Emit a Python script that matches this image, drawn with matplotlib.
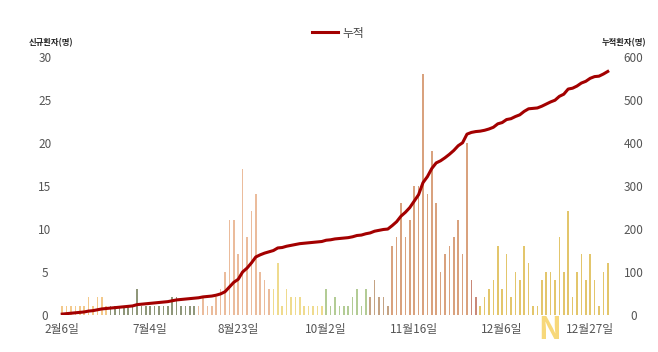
import matplotlib
matplotlib.use("Agg")
import matplotlib.pyplot as plt
import numpy as np

plt.rcParams['font.family'] = ['Noto Sans CJK KR', 'DejaVu Sans']

# 일별 신규환자 (명)
new_cases = [1, 1, 1, 1, 1, 1, 2, 1, 2, 2, 1,
             1, 1, 1, 1, 1, 1, 3, 1, 1, 1, 1, 1, 1, 1, 2, 2, 1, 1, 1, 1,
             1, 2, 1, 1, 2, 3, 5, 11, 11, 7, 17, 9, 12, 14,
             5, 4, 3, 3, 6, 1, 3, 2, 2, 2, 1, 1, 1, 1, 1,
             3, 1, 2, 1, 1, 1, 2, 3, 1, 3, 2, 4, 2, 2,
             1, 8, 9, 13, 9, 11, 15, 15, 28, 14, 19, 13, 5, 7, 8, 9, 11, 7, 20,
             4, 2, 1, 2, 3, 4, 8, 3, 7, 2, 5, 4, 8, 6, 1, 1, 4, 5, 5, 4, 9, 5,
             12, 2, 5, 7, 4, 7, 4, 1, 5, 6]
cumulative = np.cumsum(new_cases)

tick_pos = [0, 20, 40, 60, 80, 100, 120]
tick_labels = ['2월6일', '7월4일', '8월23일', '10월2일', '11월16일', '12월6일', '12월27일']

# 구간별 막대 색
segments = [(11, '#f3c98b'), (20, '#8f977a'), (17, '#ebbc9c'), (12, '#efdb8e'),
            (10, '#b3cc95'), (5, '#c4a384'), (18, '#d9a27e'), (2, '#c98878'),
            (30, '#e3c66c')]
colors = []
for cnt, c in segments:
    colors += [c] * cnt
colors = colors[:len(new_cases)]

x = np.arange(len(new_cases))

fig = plt.figure(figsize=(6.58, 3.52), dpi=100)
ax = fig.add_axes([0.0912, 0.1065, 0.8358, 0.732])
ax.bar(x, new_cases, width=0.38, color=colors)
ax.set_xlim(-0.5, len(new_cases) - 0.5)
ax.set_ylim(0, 30)
ax.set_yticks(range(0, 31, 5))
ax.set_xticks(tick_pos, tick_labels)
for s in ax.spines.values():
    s.set_visible(False)
ax.tick_params(axis='y', length=0, pad=11, labelsize=8.5, labelcolor='#555555')
ax.tick_params(axis='x', length=0, pad=6, labelsize=8.5, labelcolor='#555555')
for lab in ax.get_yticklabels():
    lab.set_horizontalalignment('center')

ax2 = ax.twinx()
ax2.plot(x, cumulative, color='#a30000', lw=2.2, label='누적')
ax2.set_ylim(0, 600)
ax2.set_yticks(range(0, 601, 100))
for s in ax2.spines.values():
    s.set_visible(False)
ax2.tick_params(axis='y', length=0, pad=17, labelsize=8.5, labelcolor='#555555')
for lab in ax2.get_yticklabels():
    lab.set_horizontalalignment('center')

fig.text(51 / 658, 1 - 43 / 352, '신규환자(명)', ha='center', va='center',
         fontsize=6, fontweight='bold', color='#222222')
fig.text(624 / 658, 1 - 43 / 352, '누적환자(명)', ha='center', va='center',
         fontsize=6, fontweight='bold', color='#222222')
fig.legend(loc='center', bbox_to_anchor=(338 / 658, 1 - 33 / 352), frameon=False,
           fontsize=8.5, handlelength=2.2, handletextpad=0.4, labelcolor='#444444')

# 워터마크
fig.text(550 / 658, 1 - 330 / 352, 'N', ha='center', va='center', fontsize=22,
         fontweight='bold', color='#f7d46c', alpha=0.9, zorder=0)

fig.savefig('out.png', dpi=100)
